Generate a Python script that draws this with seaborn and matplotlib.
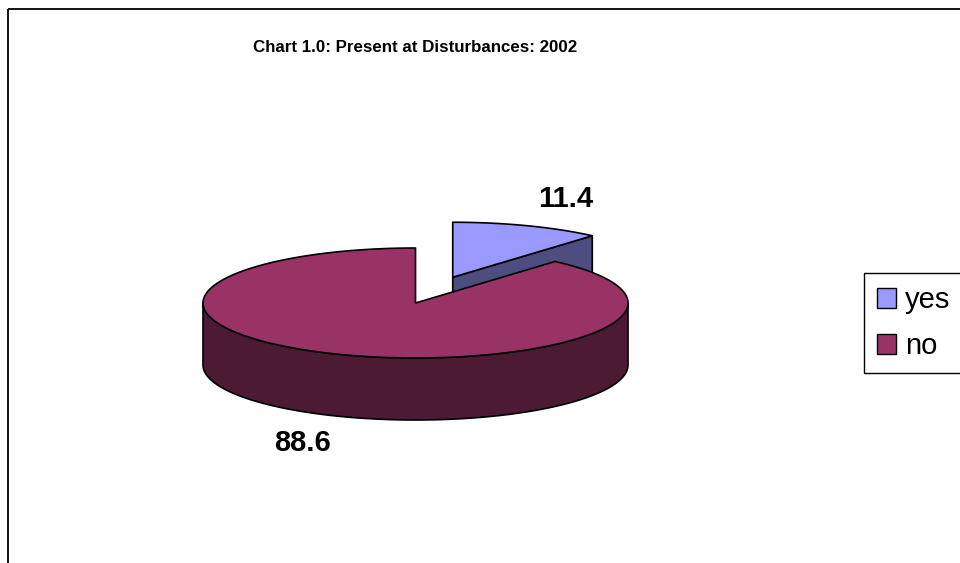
import matplotlib
matplotlib.use("Agg")
import matplotlib.pyplot as plt
from matplotlib.patches import Polygon, Rectangle, Patch
import numpy as np
import seaborn as sns

# data
labels = ["yes", "no"]
values = [11.4, 88.6]
value_text = ["11.4", "88.6"]
top_colors = ["#9999FF", "#993366"]
side_colors = ["#4D4D80", "#4C1A33"]
explode = [0.5, 0.0]
title = "Chart 1.0: Present at Disturbances: 2002"

sns.set_theme(style="white")
plt.rcParams["font.family"] = ["Liberation Sans", "DejaVu Sans"]

# pie geometry (pixels, y downwards)
cx, cy = 415.5, 303
rx, ry = 212.5, 55
depth = 62
edge = dict(edgecolor="black", linewidth=1.2, joinstyle="round")


def ring(theta, ox, oy, dz=0.0):
    t = np.radians(theta)
    return np.column_stack([ox + rx * np.cos(t), oy - ry * np.sin(t) + dz])


fig = plt.figure(figsize=(9.6, 5.63), dpi=100)
ax = fig.add_axes([0, 0, 1, 1])
ax.set_xlim(0, 960)
ax.set_ylim(563, 0)
ax.axis("off")

# outer chart frame (runs off the right and bottom)
ax.add_patch(Rectangle((8, 9), 1200, 1000, fill=False, edgecolor="black",
                       linewidth=1.3, clip_on=True))

total = sum(values)
slices = []
start = 90.0
for i, v in enumerate(values):
    end = start - v / total * 360.0
    mid = (start + end) / 2
    m = np.radians(mid)
    ox = cx + explode[i] * rx * np.cos(m)
    oy = cy - explode[i] * ry * np.sin(m)
    slices.append((i, start, end, mid, ox, oy))
    start = end

# back slices first
slices.sort(key=lambda s: -np.sin(np.radians(s[3])))
for z, (i, s, e, mid, ox, oy) in enumerate(slices):
    zo = 2 + 3 * z
    centre = np.array([[ox, oy]])
    # radial side faces
    for ang, visible in ((s, np.cos(np.radians(s)) < -1e-9),
                         (e, np.cos(np.radians(e)) > 1e-9)):
        if visible:
            p = ring(np.array([ang]), ox, oy)[0]
            quad = [(ox, oy), tuple(p), (p[0], p[1] + depth), (ox, oy + depth)]
            ax.add_patch(Polygon(quad, closed=True, facecolor=side_colors[i],
                                 zorder=zo, **edge))
    # front rim
    for k in (-1, 0, 1):
        lo, hi = max(e, -180 + 360 * k), min(s, 360 * k)
        if hi > lo:
            th = np.linspace(hi, lo, 120)
            top = ring(th, ox, oy)
            bot = ring(th[::-1], ox, oy, depth)
            ax.add_patch(Polygon(np.vstack([top, bot]), closed=True,
                                 facecolor=side_colors[i], zorder=zo + 1, **edge))
    # top face
    th = np.linspace(s, e, 300)
    face = np.vstack([centre, ring(th, ox, oy)])
    ax.add_patch(Polygon(face, closed=True, facecolor=top_colors[i],
                         zorder=zo + 2, **edge))
    # value label
    m = np.radians(mid)
    lx = ox + 1.52 * rx * np.cos(m)
    ly = oy - 1.52 * ry * np.sin(m) + (depth if np.sin(m) < 0 else 0)
    ax.text(lx, ly, value_text[i], fontsize=21, fontweight="bold",
            ha="center", va="center", color="black", zorder=20)

ax.text(415, 47, title, fontsize=12.2, fontweight="bold",
        ha="center", va="center", color="black")

handles = [Patch(facecolor=c, edgecolor="black", linewidth=1.0) for c in top_colors]
leg = ax.legend(handles, labels, loc="upper left",
                bbox_to_anchor=(864 / 960, 1 - 273 / 563),
                bbox_transform=fig.transFigure, frameon=True,
                fontsize=21, labelcolor="black",
                fancybox=False, shadow=False, framealpha=1, edgecolor="black",
                handlelength=0.65, handleheight=0.65, handletextpad=0.3,
                labelspacing=0.62, borderpad=0.45, borderaxespad=0)
leg.get_frame().set_linewidth(1.0)

plt.savefig("out.png", dpi=100)
plt.close()
